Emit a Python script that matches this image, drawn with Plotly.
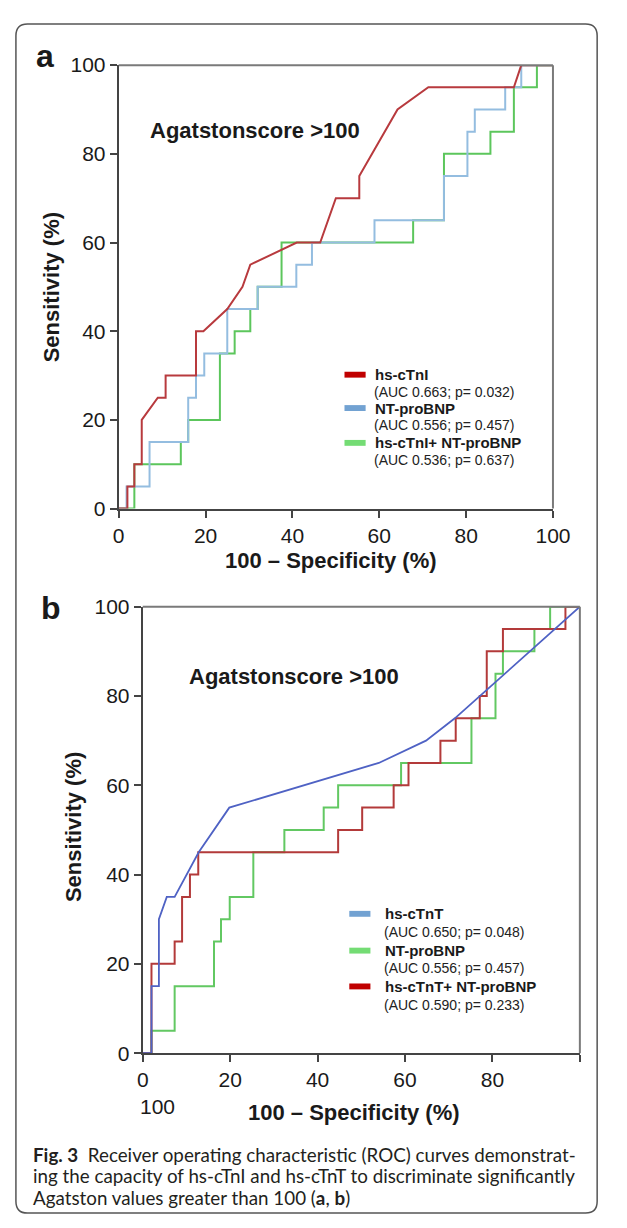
import plotly.graph_objects as go

# ---------------- Data: panel a ----------------
a_tni_x = [0, 2, 2, 3.6, 3.6, 5.3, 5.3, 9, 10.8, 10.8, 17.8, 17.8, 19.5, 25, 28.5, 30.3, 41, 46.4, 50, 55.4, 55.4, 64.2, 71.3, 91, 92.7, 100]
a_tni_y = [0, 0, 5, 5, 10, 10, 20, 25, 25, 30, 30, 40, 40, 45, 50, 55, 60, 60, 70, 70, 75, 90, 95, 95, 100, 100]

a_bnp_x = [0, 1.8, 1.8, 7.1, 7.1, 16, 16, 17.8, 17.8, 19.7, 19.7, 25, 25, 32, 32, 40.9, 40.9, 44.5, 44.5, 58.9, 58.9, 74.9, 74.9, 80.3, 80.3, 82, 82, 89, 89, 92.7, 92.7, 100]
a_bnp_y = [0, 0, 5, 5, 15, 15, 25, 25, 30, 30, 35, 35, 45, 45, 50, 50, 55, 55, 60, 60, 65, 65, 75, 75, 85, 85, 90, 90, 95, 95, 100, 100]

a_comb_x = [0, 3.6, 3.6, 14.3, 14.3, 16, 16, 23.3, 23.3, 26.7, 26.7, 30.3, 30.3, 32, 32, 37.5, 37.5, 67.8, 67.8, 74.9, 74.9, 85.6, 85.6, 91, 91, 96.3, 96.3, 100]
a_comb_y = [0, 0, 10, 10, 15, 15, 20, 20, 35, 35, 40, 40, 45, 45, 50, 50, 60, 60, 65, 65, 80, 80, 85, 85, 95, 95, 100, 100]

# ---------------- Data: panel b ----------------
b_tnt_x = [0, 2, 2, 3.7, 3.7, 5.5, 7.3, 12.8, 19.8, 54, 64.8, 71.4, 100]
b_tnt_y = [0, 0, 15, 15, 30, 35, 35, 45, 55, 65, 70, 75, 100]

b_bnp_x = [0, 2, 2, 7.3, 7.3, 16.3, 16.3, 17.9, 17.9, 19.9, 19.9, 25.3, 25.3, 32.4, 32.4, 41.4, 41.4, 44.7, 44.7, 59.1, 59.1, 75.2, 75.2, 80.7, 80.7, 82.4, 82.4, 89.6, 89.6, 93.2, 93.2, 100]
b_bnp_y = [0, 0, 5, 5, 15, 15, 25, 25, 30, 30, 35, 35, 45, 45, 50, 50, 55, 55, 60, 60, 65, 65, 75, 75, 85, 85, 90, 90, 95, 95, 100, 100]

b_comb_x = [0, 2, 2, 7.3, 7.3, 9, 9, 10.8, 10.8, 12.7, 12.7, 44.7, 44.7, 50.2, 50.2, 57.4, 57.4, 60.8, 60.8, 68.1, 68.1, 71.6, 71.6, 77.1, 77.1, 78.7, 78.7, 82.4, 82.4, 96.7, 96.7, 100]
b_comb_y = [0, 0, 20, 20, 25, 25, 35, 35, 40, 40, 45, 45, 50, 50, 55, 55, 60, 60, 65, 65, 70, 70, 75, 75, 80, 80, 90, 90, 95, 95, 100, 100]

tick_vals = [0, 20, 40, 60, 80, 100]
a_tick_text = ["0", "20", "40", "60", "80", "100"]
b_xtick_text = ["0", "20", "40", "60", "80", ""]

legend_a = [("hs-cTnI", "(AUC 0.663; p= 0.032)", "#c00000"),
            ("NT-proBNP", "(AUC 0.556; p= 0.457)", "#72a2d2"),
            ("hs-cTnI+ NT-proBNP", "(AUC 0.536; p= 0.637)", "#74dc74")]
legend_b = [("hs-cTnT", "(AUC 0.650; p= 0.048)", "#72a2d2"),
            ("NT-proBNP", "(AUC 0.556; p= 0.457)", "#74dc74"),
            ("hs-cTnT+ NT-proBNP", "(AUC 0.590; p= 0.233)", "#c00000")]

caption_lines = [
    "<b>Fig. 3</b>  Receiver operating characteristic (ROC) curves demonstrat-",
    "ing the capacity of hs-cTnI and hs-cTnT to discriminate significantly",
    "Agatston values greater than 100 (<b>a</b>, <b>b</b>)",
]

# ---------------- helpers ----------------
# the page body has an 8px margin; coordinates below are window pixels
OFF = 8
FW, FH = 627 - 2 * OFF, 1228 - OFF


def px(x):
    return (x - OFF) / FW


def py(y):
    return 1 - (y - OFF) / FH


FONT = "Liberation Sans, Arial, sans-serif"
RED_A, BLUE_A, GREEN_A = "#b83a3e", "#94bde0", "#5cc65c"
RED_B, BLUE_B, GREEN_B = "#b33a3a", "#4f62c4", "#62c862"

fig = go.Figure()

# panel a traces
fig.add_trace(go.Scatter(x=a_comb_x, y=a_comb_y, mode="lines", line=dict(color=GREEN_A, width=2), xaxis="x", yaxis="y"))
fig.add_trace(go.Scatter(x=a_bnp_x, y=a_bnp_y, mode="lines", line=dict(color=BLUE_A, width=2), xaxis="x", yaxis="y"))
fig.add_trace(go.Scatter(x=a_tni_x, y=a_tni_y, mode="lines", line=dict(color=RED_A, width=2), xaxis="x", yaxis="y"))
# panel b traces
fig.add_trace(go.Scatter(x=b_bnp_x, y=b_bnp_y, mode="lines", line=dict(color=GREEN_B, width=2), xaxis="x2", yaxis="y2"))
fig.add_trace(go.Scatter(x=b_comb_x, y=b_comb_y, mode="lines", line=dict(color=RED_B, width=2), xaxis="x2", yaxis="y2"))
fig.add_trace(go.Scatter(x=b_tnt_x, y=b_tnt_y, mode="lines", line=dict(color=BLUE_B, width=1.8), xaxis="x2", yaxis="y2"))

axis_common = dict(range=[0, 100], showgrid=False, zeroline=False, showline=True,
                   linecolor="#444", linewidth=2, ticks="outside", ticklen=7,
                   tickwidth=1.5, tickcolor="#444", tickvals=tick_vals,
                   tickfont=dict(family=FONT, size=21, color="#1a1a1a"),
                   fixedrange=True)

fig.update_layout(
    xaxis=dict(domain=[px(117), px(569)], anchor="y", ticktext=a_tick_text, **axis_common),
    yaxis=dict(domain=[py(506), py(54)], anchor="x", ticktext=a_tick_text, **axis_common),
    xaxis2=dict(domain=[px(142), px(597)], anchor="y2", ticktext=b_xtick_text, **axis_common),
    yaxis2=dict(domain=[py(1061), py(606)], anchor="x2", ticktext=a_tick_text, **axis_common),
)

shapes = []
for xr, yr in (("x", "y"), ("x2", "y2")):
    shapes.append(dict(type="line", xref=f"{xr} domain", yref=f"{yr} domain", x0=0, x1=1, y0=1, y1=1,
                       line=dict(color="#7a7a7a", width=2)))
    shapes.append(dict(type="line", xref=f"{xr} domain", yref=f"{yr} domain", x0=1, x1=1, y0=0, y1=1,
                       line=dict(color="#7a7a7a", width=2)))

# outer rounded frame
x0, y0, x1, y1 = px(10), py(12), px(615), py(1224)
rx, ry = 12 / FW, 12 / FH
path = (f"M {x0+rx},{y0} L {x1-rx},{y0} Q {x1},{y0} {x1},{y0-ry} "
        f"L {x1},{y1+ry} Q {x1},{y1} {x1-rx},{y1} L {x0+rx},{y1} Q {x0},{y1} {x0},{y1+ry} "
        f"L {x0},{y0-ry} Q {x0},{y0} {x0+rx},{y0} Z")
shapes.append(dict(type="path", xref="paper", yref="paper", path=path, line=dict(color="#555", width=1.5)))

annotations = []


def text(x, y, s, size, bold=False, xanchor="center", yanchor="middle", angle=0, color="#1a1a1a", family=FONT):
    annotations.append(dict(x=px(x), y=py(y), xref="paper", yref="paper", text=f"<b>{s}</b>" if bold else s,
                            showarrow=False, xanchor=xanchor, yanchor=yanchor, textangle=angle,
                            font=dict(family=family, size=size, color=color)))


def legend(entries, sx0, sx1, tx, ys, auc_ys):
    for (name, auc, col), yy, ya in zip(entries, ys, auc_ys):
        shapes.append(dict(type="rect", xref="paper", yref="paper", x0=px(sx0), x1=px(sx1),
                           y0=py(yy + 3), y1=py(yy - 3), fillcolor=col, line=dict(width=0)))
        text(tx, yy, name, 15, bold=True, xanchor="left")
        text(tx - 1, ya, auc, 14, xanchor="left", color="#222")


legend(legend_a, 352, 374, 382, [369.5, 403.5, 439], [387, 421, 456])
legend(legend_b, 357, 379, 392, [919, 956.5, 993], [938, 974.5, 1011.5])

text(40, 45, "a", 32, bold=True)
text(46, 607, "b", 32, bold=True)
text(258.7, 120.5, "Agatstonscore >100", 22, bold=True)
text(299.5, 677, "Agatstonscore >100", 22, bold=True)
text(47, 280, "Sensitivity (%)", 22, bold=True, angle=-90)
text(70, 831, "Sensitivity (%)", 22, bold=True, angle=-90)
text(338, 559, "100 \u2013 Specificity (%)", 22, bold=True)
text(362, 1122, "100 \u2013 Specificity (%)", 22, bold=True)
text(157, 1115, "100", 21)

for i, line in enumerate(caption_lines):
    text(26, 1164 + 22 * i, line, 18.8, xanchor="left", color="#231f20", family="Lato, Noto Sans, sans-serif")

fig.update_layout(
    width=FW, height=FH, margin=dict(l=0, r=0, t=0, b=0),
    paper_bgcolor="white", plot_bgcolor="white", showlegend=False,
    shapes=shapes, annotations=annotations,
)

fig.write_html("out.html")
